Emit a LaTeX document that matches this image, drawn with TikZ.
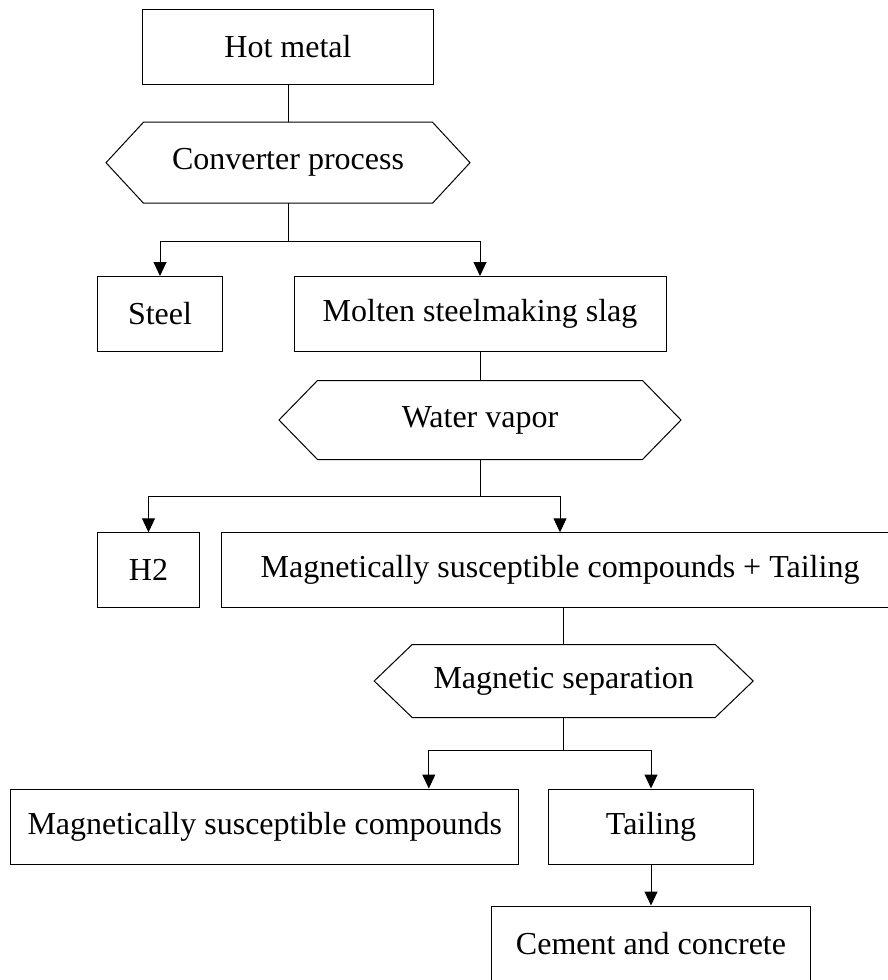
\documentclass[tikz,border=0pt]{standalone}
\usepackage{fontspec}
\setmainfont{Liberation Serif}
\usetikzlibrary{arrows.meta}
\newcommand{\hexframe}[2]{\draw (#1.north west) -- (#1.north east) -- ([xshift=#2]#1.east) -- (#1.south east) -- (#1.south west) -- ([xshift=-#2]#1.west) -- cycle;}
\begin{document}
\begin{tikzpicture}[x=1pt,y=-1pt,line width=1pt,
    box/.style={draw,inner sep=0pt,font=\fontsize{32}{38}\selectfont,minimum height=75pt},
    hexbox/.style={inner sep=0pt,font=\fontsize{32}{38}\selectfont},
    flow/.style={-{Triangle[length=14pt,width=13pt]}}]
        \useasboundingbox (0,0) rectangle (888,980);
        \node[box,minimum width=291pt] (hot) at (288,46.5) {Hot metal};
        \node[hexbox,minimum width=288pt,minimum height=80pt] (conv) at (288,162.7) {Converter process};
        \node[box,minimum width=125pt] (steel) at (160,314) {Steel};
        \node[box,minimum width=372pt] (slag) at (480,314) {Molten steelmaking slag};
        \node[hexbox,minimum width=324pt,minimum height=78pt] (water) at (480,420) {Water vapor};
        \node[box,minimum width=102pt] (htwo) at (148.5,570.3) {H2};
        \node[box,minimum width=677pt] (mix) at (560,570.3) {Magnetically susceptible compounds + Tailing};
        \node[hexbox,minimum width=302pt,minimum height=72pt] (magsep) at (563.7,681) {Magnetic separation};
        \node[box,minimum width=508pt] (msc) at (264.8,826.5) {Magnetically susceptible compounds};
        \node[box,minimum width=205pt] (tail) at (651,826.5) {Tailing};
        \node[box,minimum width=319pt] (cement) at (651,943.5) {Cement and concrete};
        
        \hexframe{conv}{37.5}
        \hexframe{water}{38.5}
        \hexframe{magsep}{38}
        
        \coordinate (split1) at (conv.south |- 0,241);
        \coordinate (split2) at (water.south |- 0,496);
        \coordinate (split3) at (magsep.south |- 0,750.3);
        
        \draw (hot.south) -- (conv.north);
        \draw (conv.south) -- (split1);
        \draw[flow] (split1) -| (steel.north);
        \draw[flow] (split1) -| (slag.north);
        
        \draw (slag.south) -- (water.north);
        \draw (water.south) -- (split2);
        \draw[flow] (split2) -| (htwo.north);
        \draw[flow] (split2) -| (mix.north);
        
        \draw (magsep.north |- mix.south) -- (magsep.north);
        \draw (magsep.south) -- (split3);
        \draw[flow] (split3) -| ([xshift=164pt]msc.north);
        \draw[flow] (split3) -| (tail.north);
        \draw[flow] (tail.south) -- (tail.south |- cement.north);
    \end{tikzpicture}
\end{document}
